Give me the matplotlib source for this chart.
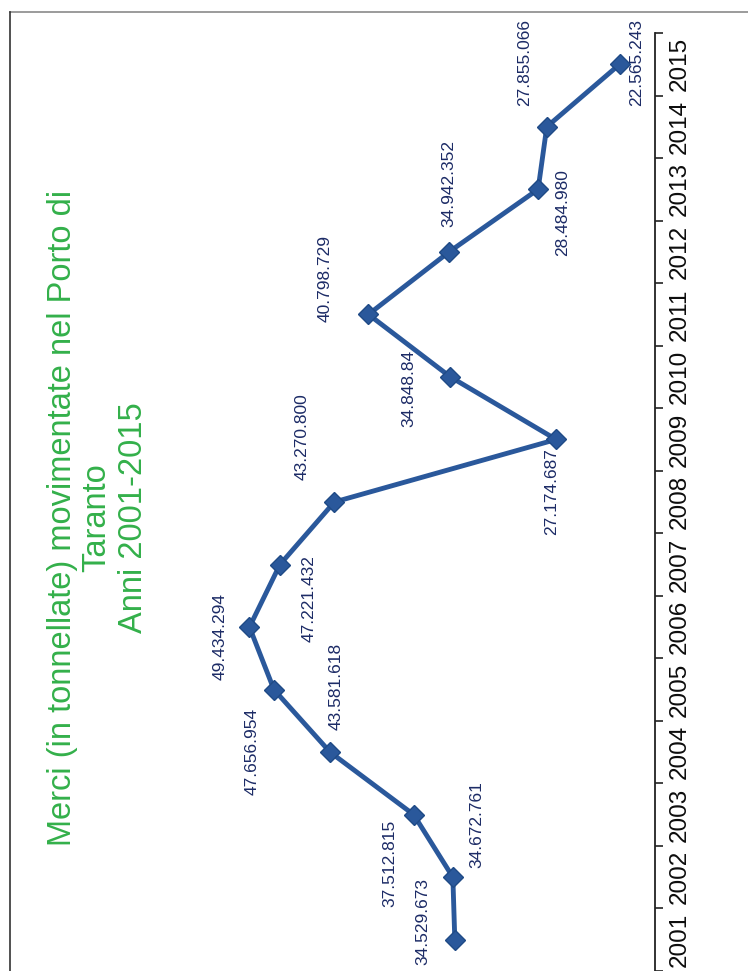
import matplotlib
matplotlib.use("Agg")
import matplotlib.pyplot as plt
from matplotlib.lines import Line2D

plt.rcParams['font.family'] = ['Liberation Sans', 'DejaVu Sans']

years = ['2001', '2002', '2003', '2004', '2005', '2006', '2007', '2008',
         '2009', '2010', '2011', '2012', '2013', '2014', '2015']
tonnes = [34529673, 34672761, 37512815, 43581618, 47656954, 49434294, 47221432,
          43270800, 27174687, 34848840, 40798729, 34942352, 28484980, 27855066,
          22565243]
labels = ['34.529.673', '34.672.761', '37.512.815', '43.581.618', '47.656.954',
          '49.434.294', '47.221.432', '43.270.800', '27.174.687', '34.848.84',
          '40.798.729', '34.942.352', '28.484.980', '27.855.066', '22.565.243']
title_lines = ['Merci (in tonnellate) movimentate nel Porto di', 'Taranto',
               'Anni 2001-2015']

# label offsets in pixels (page is turned 90 degrees)
label_off = [(-32, -18), (24, -53), (-24, 49), (6, -66), (-22, 62), (-29, 9),
             (29, 34), (-32, -65), (-5, 52), (-42, 12), (-43, -36), (0, -68),
             (25, 23), (-22, -64), (17, -2)]

W, H = 748, 971
fig = plt.figure(figsize=(W / 100, H / 100), dpi=100)
ax = fig.add_axes([35 / W, 0, 620 / W, (H - 33) / H])

pos = list(range(len(years)))
line_col = '#2a589b'
ax.plot(tonnes, pos, color=line_col, lw=3.5, marker='D', ms=10.5,
        mfc=line_col, mec='#1f4a86', mew=1, zorder=3)

for v, p, lab, (dx, dy) in zip(tonnes, pos, labels, label_off):
    ax.annotate(lab, (v, p), xytext=(dx * 0.72, -dy * 0.72),
                textcoords='offset points', rotation=90, ha='center',
                va='center', fontsize=12.5, color='#1c2b66', zorder=2)

ax.set_xlim(65e6, 20e6)
ax.set_ylim(-0.5, len(years) - 0.5)

for s in ['left', 'top', 'bottom']:
    ax.spines[s].set_visible(False)
ax.spines['right'].set_color('#222222')
ax.spines['right'].set_linewidth(1.3)
ax.set_xticks([])

ax.yaxis.tick_right()
ax.set_yticks([p - 0.5 for p in pos] + [len(years) - 0.5])
ax.set_yticklabels([])
ax.set_yticks(pos, minor=True)
ax.set_yticklabels(years, minor=True, rotation=90, va='center', fontsize=17.5,
                   color='#0d0d0d')
ax.tick_params(axis='y', which='major', direction='out', length=6,
               width=1.2, color='#222222')
ax.tick_params(axis='y', which='minor', length=0, pad=10)

# chart title, turned with the page
tx = [63, 97, 134]
for line, x in zip(title_lines, tx):
    fig.text(x / W, 1 - 518 / H, line, rotation=90, ha='center', va='center',
             fontsize=23.5, color='#33b04a')

# border of the chart area
fig.add_artist(Line2D([10 / W, 1], [1 - 12 / H, 1 - 12 / H], color='#8a8a8a',
                      lw=1.2, transform=fig.transFigure))
fig.add_artist(Line2D([10 / W, 10 / W], [0, 1 - 12 / H], color='#333333',
                      lw=1.2, transform=fig.transFigure))

fig.savefig('out.png', dpi=100)
